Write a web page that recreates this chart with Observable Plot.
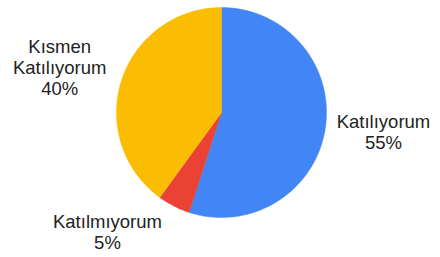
<!DOCTYPE html>
<html>
<head>
<meta charset="utf-8">
<script src="https://cdn.jsdelivr.net/npm/d3@7"></script>
<script src="https://cdn.jsdelivr.net/npm/@observablehq/plot@0.6"></script>
<style>
  html, body { margin: 0; padding: 0; background: #fff; }
  #chart svg { display: block; }
</style>
</head>
<body>
<div id="chart"></div>
<script>
// Data
const categories = ["Katılıyorum", "Katılmıyorum", "Kısmen Katılıyorum"];
const values = [55, 5, 40];
const labelTexts = ["Katılıyorum\n55%", "Katılmıyorum\n5%", "Kısmen\nKatılıyorum\n40%"];

// Styles / layout
const colors = ["#4285F4", "#EA4335", "#FBBC04"];
const labelAngleDeg = [96.9, 223.8, 285.6];
const labelRadius = [1.554, 1.569, 1.60];

const W = 440, H = 257;
const cx = 221, cy = 112, R = 105; // pixel centre and radius

const pie = d3.pie().sort(null).value(d => d.value)(
  categories.map((c, i) => ({cat: c, value: values[i]}))
);

// Build slice outlines (unit circle, clockwise from 12 o'clock)
const slicePts = [];
pie.forEach(p => {
  const cat = p.data.cat;
  slicePts.push({cat, x: 0, y: 0});
  const n = Math.max(8, Math.ceil((p.endAngle - p.startAngle) / (Math.PI / 180)));
  for (let k = 0; k <= n; k++) {
    const a = p.startAngle + (p.endAngle - p.startAngle) * k / n;
    slicePts.push({cat, x: Math.sin(a), y: Math.cos(a)});
  }
  slicePts.push({cat, x: 0, y: 0});
});

const labels = categories.map((c, i) => {
  const a = labelAngleDeg[i] * Math.PI / 180;
  return {cat: c, text: labelTexts[i], x: labelRadius[i] * Math.sin(a), y: labelRadius[i] * Math.cos(a)};
});

const chart = Plot.plot({
  width: W,
  height: H,
  margin: 0,
  style: {background: "#fff", fontFamily: "'Liberation Sans', Arial, sans-serif"},
  x: {domain: [-cx / R, (W - cx) / R], axis: null},
  y: {domain: [-(H - cy) / R, cy / R], axis: null},
  color: {domain: categories, range: colors},
  marks: [
    Plot.line(slicePts, {x: "x", y: "y", z: "cat", fill: "cat", stroke: "cat", strokeWidth: 0.5, curve: "linear"}),
    Plot.text(labels, {
      x: "x", y: "y", text: "text",
      fontSize: 18.5, lineHeight: 1.13, fill: "#222",
      textAnchor: "middle", lineAnchor: "middle"
    })
  ]
});

document.getElementById("chart").appendChild(chart);
</script>
</body>
</html>
